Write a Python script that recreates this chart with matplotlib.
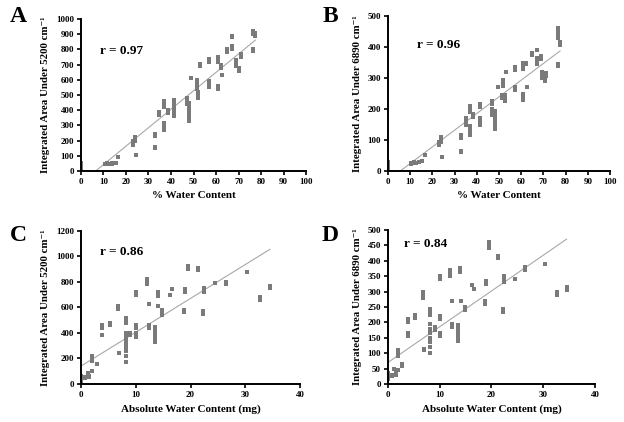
import numpy as np
import matplotlib
matplotlib.use("Agg")
import matplotlib.pyplot as plt

plt.rcParams['font.family'] = ['Liberation Serif', 'DejaVu Serif']
plt.rcParams['font.weight'] = 'bold'

# clusters of replicate readings: (x, [y values])
a_clusters = [(0, [5, 20, 40, 55]), (10.5, [45, 48]), (11.5, [45, 50]), (12.5, [47]),
              (14, [48, 50]), (15.5, [55]), (16.5, [90]), (23, [170, 185, 200]),
              (24, [200, 215, 225]), (24.5, [105]), (33, [150, 160, 230, 245]),
              (34.5, [370, 385]), (37, [270, 285, 300, 315, 420, 440, 460]),
              (38.5, [380, 400]), (41.5, [360, 380, 400, 430, 450, 470]),
              (47, [440, 460, 480]), (48, [330, 350, 370, 390, 410, 430, 450]),
              (49, [615]), (51.5, [540, 560, 580, 600]), (52, [480, 500, 520]),
              (53, [690, 705]), (57, [550, 570, 590, 720, 740]),
              (61, [540, 560, 720, 740, 750]), (62, [680, 700]), (62.5, [630]),
              (65, [780, 800]), (67, [800, 820, 880, 890]), (69, [690, 710, 730]),
              (70, [660, 680]), (71, [750, 770]), (76.5, [790, 805, 900, 920]),
              (77.5, [890, 910])]

b_clusters = [(0, [10, 20, 30]), (10.5, [22, 27]), (11.5, [25, 30]), (12.5, [26]),
              (14, [28, 30]), (15.5, [33]), (16.5, [50]), (23, [85, 95]),
              (24, [95, 105, 110]), (24.5, [45]), (33, [60, 65, 105, 115]),
              (35, [150, 160, 170]), (37, [115, 125, 135, 145, 190, 200, 210]),
              (38.5, [175, 185]), (41.5, [150, 160, 170, 205, 215]),
              (47, [180, 190, 200, 215, 225]), (48, [135, 145, 155, 165, 175, 185, 195]),
              (49.5, [270]), (51.5, [235, 245]), (52, [275, 285, 295]),
              (52.5, [225, 235, 245]), (53, [320]), (57, [260, 270, 325, 335]),
              (61, [230, 240, 250, 330, 340, 350]), (62, [345, 350]), (62.5, [270]),
              (65, [375, 380]), (67, [345, 355, 365, 390]), (69, [360, 370]),
              (69.5, [300, 310, 320]), (70.5, [290, 300, 310]), (71, [305, 315]),
              (76.5, [340, 345, 430, 440, 450, 460]), (77.5, [405, 415])]

c_clusters = [(0, [20, 35, 50, 60]), (0.8, [50, 55]), (1.5, [55, 60]), (1.2, [90]),
              (2, [100, 180, 200, 220]), (3, [155]), (3.8, [380, 440, 460]),
              (5.3, [460, 480]), (6.8, [590, 610]), (7, [240]),
              (8.2, [170, 220, 260, 280, 300, 320, 340, 360, 380, 400, 480, 500, 520]),
              (9, [380, 400]), (10, [370, 390, 400, 440, 460, 700, 720]),
              (12, [780, 800, 820]), (12.4, [630, 440, 460]),
              (13.5, [330, 350, 370, 390, 410, 430, 450]), (14, [610, 690, 720]),
              (14.8, [540, 560, 580]), (16.2, [700]), (16.7, [740]),
              (18.8, [560, 580]), (19, [720, 740]), (19.5, [900, 920]),
              (21.3, [890, 910]), (22.3, [550, 570]), (22.5, [720, 750]),
              (24.5, [790]), (26.5, [780, 800]), (30.3, [880]), (32.7, [660, 680]),
              (34.5, [750, 770])]

d_clusters = [(0, [15, 25, 35]), (0.8, [25, 30]), (1.5, [30, 35]), (1.2, [50]),
              (2, [45, 90, 100, 110]), (2.8, [60, 65]), (3.8, [155, 165, 200, 210]),
              (5.3, [215, 225]), (6.8, [280, 290, 300]), (7, [110, 115]),
              (8.2, [100, 120, 135, 150, 165, 180, 195, 225, 235, 245]),
              (9, [175, 185]), (10, [155, 165, 210, 220, 340, 350]),
              (12, [350, 360, 370]), (12.4, [270, 185, 195]),
              (13.5, [140, 150, 160, 170, 180, 190]), (14, [365, 375]), (14.2, [270]),
              (14.8, [240, 250]), (16.3, [320]), (16.6, [310]), (18.8, [260, 270]),
              (19, [325, 335]), (19.5, [440, 450, 460]), (21.3, [410, 415]),
              (22.3, [235, 245]), (22.5, [330, 340, 350]), (24.5, [340]),
              (26.5, [370, 380]), (30.3, [390]), (32.7, [290, 300]), (34.5, [305, 315])]

# trendlines: slope, intercept
fit_slopes = [12.13, 5.38, 26.5, 11.6]
fit_intercepts = [-79, -29.6, 140, 70]

panel_letters = ['A', 'B', 'C', 'D']
r_labels = ['r = 0.97', 'r = 0.96', 'r = 0.86', 'r = 0.84']
x_labels = ['% Water Content', '% Water Content',
            'Absolute Water Content (mg)', 'Absolute Water Content (mg)']
y_labels = ['Integrated Area Under 5200 cm\u207b\u00b9', 'Integrated Area Under 6890 cm\u207b\u00b9',
            'Integrated Area Under 5200 cm\u207b\u00b9', 'Integrated Area Under 6890 cm\u207b\u00b9']
x_lims = [(0, 100), (0, 100), (0, 40), (0, 40)]
y_lims = [(0, 1000), (0, 500), (0, 1200), (0, 500)]
x_steps = [10, 10, 10, 10]
y_steps = [100, 100, 200, 50]


def expand(clusters):
    xs, ys = [], []
    for x, yl in clusters:
        for y in yl:
            xs.append(x)
            ys.append(y)
    return np.array(xs, float), np.array(ys, float)


fig = plt.figure(figsize=(6.24, 4.22), dpi=100)
rects = [[0.1298, 0.5948, 0.3606, 0.3602],
         [0.6218, 0.5948, 0.3558, 0.3672],
         [0.1298, 0.0900, 0.3510, 0.3633],
         [0.6218, 0.0900, 0.3317, 0.3650]]
r_pos = [(0.085, 0.79), (0.13, 0.81), (0.087, 0.86), (0.077, 0.91)]
letter_pos = [(0.029, 0.962), (0.529, 0.962), (0.029, 0.443), (0.529, 0.443)]

for i, clusters in enumerate([a_clusters, b_clusters, c_clusters, d_clusters]):
    ax = fig.add_axes(rects[i])
    xs, ys = expand(clusters)
    xl = np.array([0, xs.max()])
    ax.plot(xl, fit_slopes[i] * xl + fit_intercepts[i], color='#a8a8a8', lw=0.8, zorder=1)
    ax.plot(xs, ys, 's', color='#7a7a7a', ms=2.8, mew=0, zorder=2)
    ax.set_xlim(*x_lims[i])
    ax.set_ylim(*y_lims[i])
    ax.set_xticks(np.arange(x_lims[i][0], x_lims[i][1] + 1, x_steps[i]))
    ax.set_yticks(np.arange(y_lims[i][0], y_lims[i][1] + 1, y_steps[i]))
    for s in ['top', 'right']:
        ax.spines[s].set_visible(False)
    for s in ['left', 'bottom']:
        ax.spines[s].set_linewidth(1.4)
    ax.tick_params(direction='out', length=3, width=1.2, labelsize=6.5, pad=2)
    ax.set_xlabel(x_labels[i], fontsize=8, fontweight='bold', labelpad=4)
    ax.set_ylabel(y_labels[i], fontsize=7.8, fontweight='bold', labelpad=4)
    ax.text(r_pos[i][0], r_pos[i][1], r_labels[i], transform=ax.transAxes,
            fontsize=9.5, fontweight='bold', va='center')
    fig.text(letter_pos[i][0], letter_pos[i][1], panel_letters[i], fontsize=17,
             fontweight='bold', ha='center', va='center')

fig.savefig('out.png', dpi=100)
